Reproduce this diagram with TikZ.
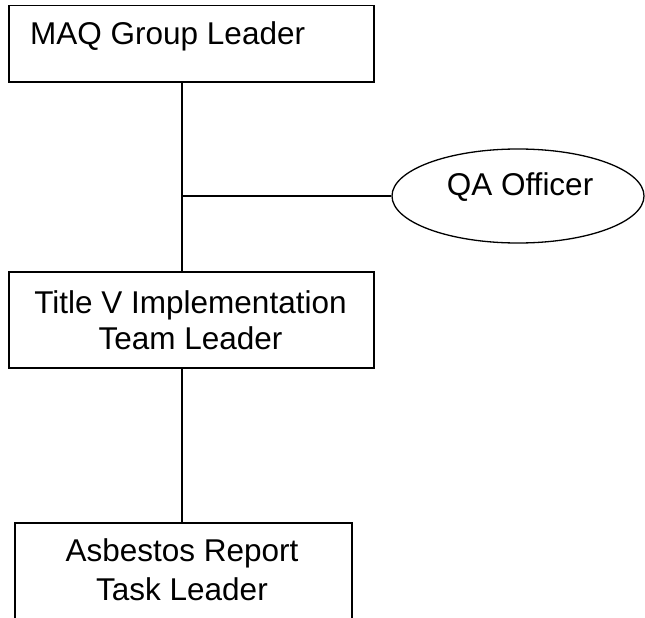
\documentclass[tikz,border=0pt]{standalone}
\usepackage{fontspec}
\setmainfont{Liberation Sans}
\usetikzlibrary{shapes.geometric}
\begin{document}
\begin{tikzpicture}[x=1pt,y=-1pt,
  boxnode/.style={draw, line width=1.5pt, inner sep=0pt, anchor=north west},
  ovalnode/.style={draw, ellipse, line width=1.3pt, inner sep=0pt},
  txt/.style={inner sep=0pt, font=\fontsize{31.5}{36}\selectfont},
  conn/.style={line width=1.4pt}]
\useasboundingbox (0,0) rectangle (645,618);
\clip (0,0) rectangle (645,618);
% boxes
\node[boxnode, minimum width=365pt, minimum height=76pt] (b1) at (8,5) {};
\node[boxnode, minimum width=365pt, minimum height=96pt] (b2) at (8,271) {};
\node[boxnode, minimum width=337pt, minimum height=110pt] (b3) at (14,522) {};
\node[ovalnode, minimum width=252pt, minimum height=94pt] (qa) at (518,196) {};
% texts
\node[txt, anchor=base west] (t1) at (30,45) {MAQ Group Leader};
\node[txt, anchor=base] (t2a) at (190.5,313) {Title V Implementation};
\node[txt, anchor=base] (t2b) at (190.5,349) {Team Leader};
\node[txt, anchor=base] (t3a) at (182,561) {Asbestos Report};
\node[txt, anchor=base] (t3b) at (182,600) {Task Leader};
\node[txt, anchor=base] (tq) at (520,195) {QA Officer};
% connectors
\coordinate (j) at (182,196);
\draw[conn] (b1.south -| j) -- (b2.north -| j);
\draw[conn] (j) -- (qa.west);
\draw[conn] (b2.south -| j) -- (b3.north -| j);
\end{tikzpicture}
\end{document}
